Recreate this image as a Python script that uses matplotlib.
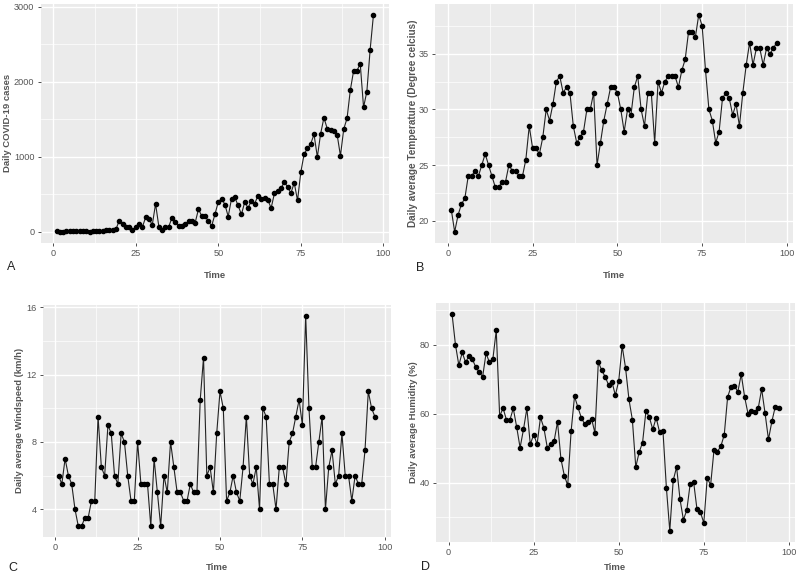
import matplotlib
matplotlib.use("Agg")
import matplotlib.pyplot as plt
import numpy as np

plt.rcParams['font.family'] = ['Liberation Sans', 'DejaVu Sans']

time = list(range(1, 98))

cases = [10, 0, 0, 5, 10, 10, 10, 10, 5, 10, 0, 5, 5, 10, 10, 25, 30, 30, 35,
         151, 111, 67, 62, 27, 58, 107, 62, 196, 173, 93, 373,
         67, 27, 71, 71, 191, 129, 84, 84, 107, 138, 147, 124, 302, 209, 213, 140, 80, 236, 400,
         444, 364, 204, 440, 458, 351, 231, 396, 320, 409, 373, 480, 431, 449, 427, 316, 511,
         538, 578, 667, 596, 516, 653, 418,
         796, 1036, 1111, 1173, 1298, 996, 1307, 1520, 1373, 1351, 1338, 1293, 1013, 1369,
         1511, 1889, 2147, 2147, 2236, 1658, 1867, 2427, 2889]

temperature = [21, 19, 20.5, 21.5, 22, 24, 24, 24.5, 24, 25,
               26, 25, 24, 23, 23, 23.5, 23.5, 25, 24.5, 24.5,
               24, 24, 25.5, 28.5, 26.5, 26.5, 26, 27.5, 30, 29,
               30.5, 32.5, 33, 31.5, 32, 31.5, 28.5, 27, 27.5, 28,
               30, 30, 31.5, 25, 27, 29, 30.5, 32, 32, 31.5,
               30, 28, 30, 29.5, 32, 33, 30, 28.5, 31.5, 31.5,
               27, 32.5, 31.5, 32.5, 33, 33, 33, 32, 33.5, 34.5,
               37, 37, 36.5, 38.5, 37.5, 33.5, 30, 29, 27, 28,
               31, 31.5, 31, 29.5, 30.5, 28.5, 31.5, 34, 36, 34,
               35.5, 35.5, 34, 35.5, 35, 35.5, 36]

windspeed = [6, 5.5, 7, 6, 5.5, 4, 3, 3, 3.5, 3.5,
             4.5, 4.5, 9.5, 6.5, 6, 9, 8.5, 6, 5.5, 8.5,
             8, 6, 4.5, 4.5, 8, 5.5, 5.5, 5.5, 3, 7,
             5, 3, 6, 5, 8, 6.5, 5, 5, 4.5, 4.5,
             5.5, 5, 5, 10.5, 13, 6, 6.5, 5, 8.5, 11,
             10, 4.5, 5, 6, 5, 4.5, 6.5, 9.5, 6, 5.5,
             6.5, 4, 10, 9.5, 5.5, 5.5, 4, 6.5, 6.5, 5.5,
             8, 8.5, 9.5, 10.5, 9, 15.5, 10, 6.5, 6.5, 8,
             9.5, 4, 6.5, 7.5, 5.5, 6, 8.5, 6, 6, 4.5,
             6, 5.5, 5.5, 7.5, 11, 10, 9.5]

humidity = [88.9, 80, 74, 77.7, 74.8, 76.8, 75.7, 73.4, 72, 70.7,
            77.5, 74.8, 75.8, 84.1, 59.2, 61.6, 58.1, 58.1, 61.5, 56.1,
            50.1, 55.4, 61.5, 51.1, 53.9, 51.1, 58.9, 55.8, 50.1, 51.1,
            52.0, 57.6, 46.9, 42.0, 39.2, 54.9, 65.0, 61.8, 58.8, 56.9,
            57.5, 58.5, 54.4, 75.0, 72.5, 70.7, 68.3, 69.2, 65.3, 69.5,
            79.6, 73.2, 64.1, 58.2, 44.5, 48.8, 51.6, 60.8, 58.9, 55.4,
            58.8, 54.6, 54.9, 38.5, 26.0, 40.6, 44.5, 35.2, 29.2, 32.0,
            39.7, 40.2, 32.2, 31.4, 28.3, 41.3, 39.3, 49.5, 49.0, 50.5,
            53.8, 64.8, 67.8, 68.0, 66.3, 71.4, 64.8, 59.9, 60.6, 60.4,
            61.6, 67.1, 60.1, 52.5, 57.7, 62.0, 61.6]

x_ticks = [0, 25, 50, 75, 100]
cases_ticks = [0, 1000, 2000, 3000]
temp_ticks = [20, 25, 30, 35]
wind_ticks = [4, 8, 12, 16]
hum_ticks = [40, 60, 80]

ylabels = ["Daily COVID-19 cases", "Daily average Temperature (Degree celcius)",
           "Daily average Windspeed (km/h)", "Daily average Humidity (%)"]
letters = ["A", "B", "C", "D"]

W, H = 800, 575
fig = plt.figure(figsize=(8, 5.75), dpi=100)
fig.patch.set_facecolor("white")

# axes boxes in pixel coords: left, top, right, bottom
boxes = [(40.7, 4, 389.3, 242.7),
         (435, 4, 793, 242.7),
         (42.7, 305, 390.7, 536.7),
         (435.7, 303, 795, 541.7)]
ylab_x = [7.3, 412.7, 20, 413.3]
ylab_size = [6.8, 7.2, 6.8, 6.8]
time_y = [275, 275, 568, 568]
letter_pos = [(7, 267), (416, 268), (8, 568), (420.5, 567)]

series = [cases, temperature, windspeed, humidity]
yticks = [cases_ticks, temp_ticks, wind_ticks, hum_ticks]

def minor_between(ticks):
    t = np.array(ticks, dtype=float)
    step = t[1] - t[0]
    return list(np.arange(t[0] - step / 2, t[-1] + step, step))

for i, (vals, yt) in enumerate(zip(series, yticks)):
    l, t, r, b = boxes[i]
    ax = fig.add_axes([l / W, 1 - b / H, (r - l) / W, (b - t) / H])
    ax.set_facecolor("#EBEBEB")
    vmin, vmax = min(vals), max(vals)
    pad = (vmax - vmin) * 0.05
    ylo, yhi = vmin - pad, vmax + pad
    ax.set_ylim(ylo, yhi)
    xpad = (max(time) - min(time)) * 0.05
    ax.set_xlim(min(time) - xpad, max(time) + xpad)

    # grid lines
    for m in minor_between(x_ticks):
        if min(time) - xpad < m < max(time) + xpad:
            ax.axvline(m, color="white", lw=0.5, zorder=0.5)
    for m in minor_between(yt):
        if ylo < m < yhi:
            ax.axhline(m, color="white", lw=0.5, zorder=0.5)
    for m in x_ticks:
        ax.axvline(m, color="white", lw=1.0, zorder=0.6)
    for m in yt:
        ax.axhline(m, color="white", lw=1.0, zorder=0.6)

    ax.plot(time, vals, color="#222222", lw=0.8, marker="o", markersize=3.0,
            markerfacecolor="black", markeredgecolor="black", zorder=3)

    ax.set_xticks(x_ticks)
    ax.set_yticks(yt)
    ax.tick_params(axis="both", colors="#333333", length=2.5, width=0.6,
                   labelsize=6.6, labelcolor="#555555", pad=2)
    for s in ax.spines.values():
        s.set_visible(False)

    ax.set_xlabel("Time", fontsize=6.8, fontweight="bold", color="#555555")
    ax.xaxis.set_label_coords(0.5, (b - time_y[i]) / (b - t))
    ax.xaxis.label.set_va("center")
    ax.set_ylabel(ylabels[i], fontsize=ylab_size[i], fontweight="bold", color="#555555")
    ax.yaxis.set_label_coords((ylab_x[i] - l) / (r - l), 0.5)
    ax.yaxis.label.set_va("center")

    lx, ly = letter_pos[i]
    fig.text(lx / W, 1 - ly / H, letters[i], fontsize=9, color="#222222",
             ha="left", va="center")

fig.savefig("out.png", dpi=100, facecolor="white")
